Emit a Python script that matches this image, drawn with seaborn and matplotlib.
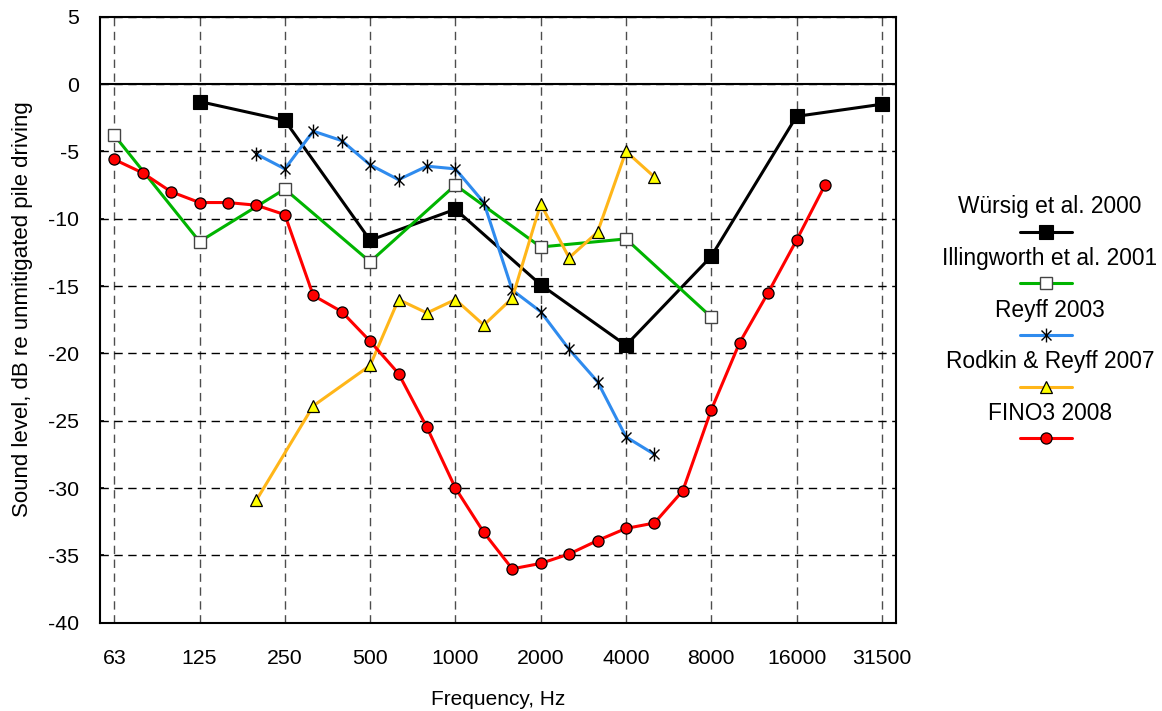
import matplotlib
matplotlib.use("Agg")
import matplotlib.pyplot as plt
from matplotlib.lines import Line2D
from matplotlib.path import Path
import pandas as pd
import seaborn as sns


# ── Data ─────────────────────────────────────────────────────────────────────

# third-octave band centres on the x axis, labelled every octave
bands = [63, 80, 100, 125, 160, 200, 250, 315, 400, 500, 630, 800, 1000, 1250,
         1600, 2000, 2500, 3150, 4000, 5000, 6300, 8000, 10000, 12500, 16000,
         20000, 25000, 31500]
tick_labels = ["63", "125", "250", "500", "1000", "2000", "4000", "8000", "16000", "31500"]

wursig_freq = [125, 250, 500, 1000, 2000, 4000, 8000, 16000, 31500]
wursig_db = [-1.3, -2.7, -11.6, -9.3, -14.9, -19.4, -12.8, -2.4, -1.5]

illing_freq = [63, 125, 250, 500, 1000, 2000, 4000, 8000]
illing_db = [-3.8, -11.7, -7.8, -13.2, -7.5, -12.1, -11.5, -17.3]

reyff_freq = [200, 250, 315, 400, 500, 630, 800, 1000, 1250, 1600, 2000, 2500, 3150, 4000, 5000]
reyff_db = [-5.2, -6.3, -3.5, -4.2, -6.0, -7.1, -6.1, -6.3, -8.8, -15.3, -16.9, -19.7, -22.1, -26.2, -27.5]

rodkin_freq = [200, 315, 500, 630, 800, 1000, 1250, 1600, 2000, 2500, 3150, 4000, 5000]
rodkin_db = [-30.9, -23.9, -20.9, -16.0, -17.0, -16.0, -17.9, -15.9, -8.9, -12.9, -11.0, -5.0, -6.9]

fino_freq = [63, 80, 100, 125, 160, 200, 250, 315, 400, 500, 630, 800, 1000, 1250,
             1600, 2000, 2500, 3150, 4000, 5000, 6300, 8000, 10000, 12500, 16000, 20000]
fino_db = [-5.6, -6.6, -8.0, -8.8, -8.8, -9.0, -9.7, -15.7, -16.9, -19.1, -21.5, -25.5, -30.0, -33.3,
           -36.0, -35.6, -34.9, -33.9, -33.0, -32.6, -30.2, -24.2, -19.2, -15.5, -11.6, -7.5]

series_names = ["Würsig et al. 2000", "Illingworth et al. 2001", "Reyff 2003",
                "Rodkin & Reyff 2007", "FINO3 2008"]


# ── Styles ───────────────────────────────────────────────────────────────────

# asterisk = vertical bar + X, like the spreadsheet marker
asterisk = Path([(0, -1), (0, 1), (-0.72, -0.72), (0.72, 0.72), (-0.72, 0.72), (0.72, -0.72)],
                [Path.MOVETO, Path.LINETO] * 3)

styles = [
    dict(color="black", marker="s", markersize=9.5, markerfacecolor="black",
         markeredgecolor="black", markeredgewidth=0.8),
    dict(color="#00B400", marker="s", markersize=8, markerfacecolor="white",
         markeredgecolor="#444444", markeredgewidth=1.0),
    dict(color="#2F8BEE", marker=asterisk, markersize=10, markerfacecolor="none",
         markeredgecolor="black", markeredgewidth=1.0),
    dict(color="#FFB619", marker="^", markersize=8, markerfacecolor="#FFFF00",
         markeredgecolor="black", markeredgewidth=0.9),
    dict(color="#FF0000", marker="o", markersize=8, markerfacecolor="#FF0000",
         markeredgecolor="black", markeredgewidth=0.9),
]

data = [(wursig_freq, wursig_db), (illing_freq, illing_db), (reyff_freq, reyff_db),
        (rodkin_freq, rodkin_db), (fino_freq, fino_db)]


# ── Plot ─────────────────────────────────────────────────────────────────────

sns.set_theme(style="white")
plt.rcParams["font.family"] = ["Liberation Sans", "DejaVu Sans"]
plt.rcParams["axes.unicode_minus"] = False

fig = plt.figure(figsize=(11.62, 7.11), dpi=100)
ax = fig.add_axes([0.0861, 0.1242, 0.6850, 0.8523])

for (freq, db), name, st in zip(data, series_names, styles):
    df = pd.DataFrame({"x": [bands.index(f) for f in freq], "db": db})
    sns.lineplot(data=df, x="x", y="db", ax=ax, linewidth=2.2, sort=False,
                 errorbar=None, label=name, legend=False, zorder=3, **st)

ax.set_xlim(-0.5, len(bands) - 0.5)
ax.set_ylim(-40, 5)
ax.set_xticks(range(0, len(bands), 3))
ax.set_xticklabels(tick_labels)
ax.set_yticks(range(-40, 6, 5))

# dashed grid, solid zero line
ax.grid(True, axis="y", color="black", linestyle=(0, (6, 4)), linewidth=1.0)
ax.grid(True, axis="x", color="0.3", linestyle=(0, (6, 4)), linewidth=1.0)
ax.axhline(0, color="black", linewidth=1.5, zorder=2)

for sp in ax.spines.values():
    sp.set_color("black")
    sp.set_linewidth(1.5)

ax.tick_params(axis="x", length=0, pad=19, labelsize=15.3, colors="black")
ax.tick_params(axis="y", direction="in", length=3, left=True, pad=15, labelsize=15.3, colors="black")
for lbl in ax.get_yticklabels():
    lbl.set_va("center_baseline")

ax.set_xlabel("Frequency, Hz", fontsize=15, color="black", labelpad=16)
ax.set_ylabel("Sound level, dB re unmitigated pile driving", fontsize=16, color="black")
ax.yaxis.set_label_coords(-0.098, 0.518)
ax.yaxis.label.set_va("center")

# legend: label centred above each line/marker sample
W, H = 1162, 711
for i, (name, st) in enumerate(zip(series_names, styles)):
    y_handle = 1 - (231.7 + i * 51.65) / H
    y_text = 1 - (206.7 + i * 51.65) / H
    fig.text(1050 / W, y_text, name, ha="center", va="center", fontsize=16.4, color="black")
    fig.add_artist(Line2D([1020 / W, 1072 / W], [y_handle, y_handle], transform=fig.transFigure,
                          color=st["color"], linewidth=2.2))
    mk = {k: v for k, v in st.items() if k != "color"}
    fig.add_artist(Line2D([1046 / W], [y_handle], transform=fig.transFigure, linestyle="none", **mk))

plt.savefig("out.png", dpi=100)
plt.close()
